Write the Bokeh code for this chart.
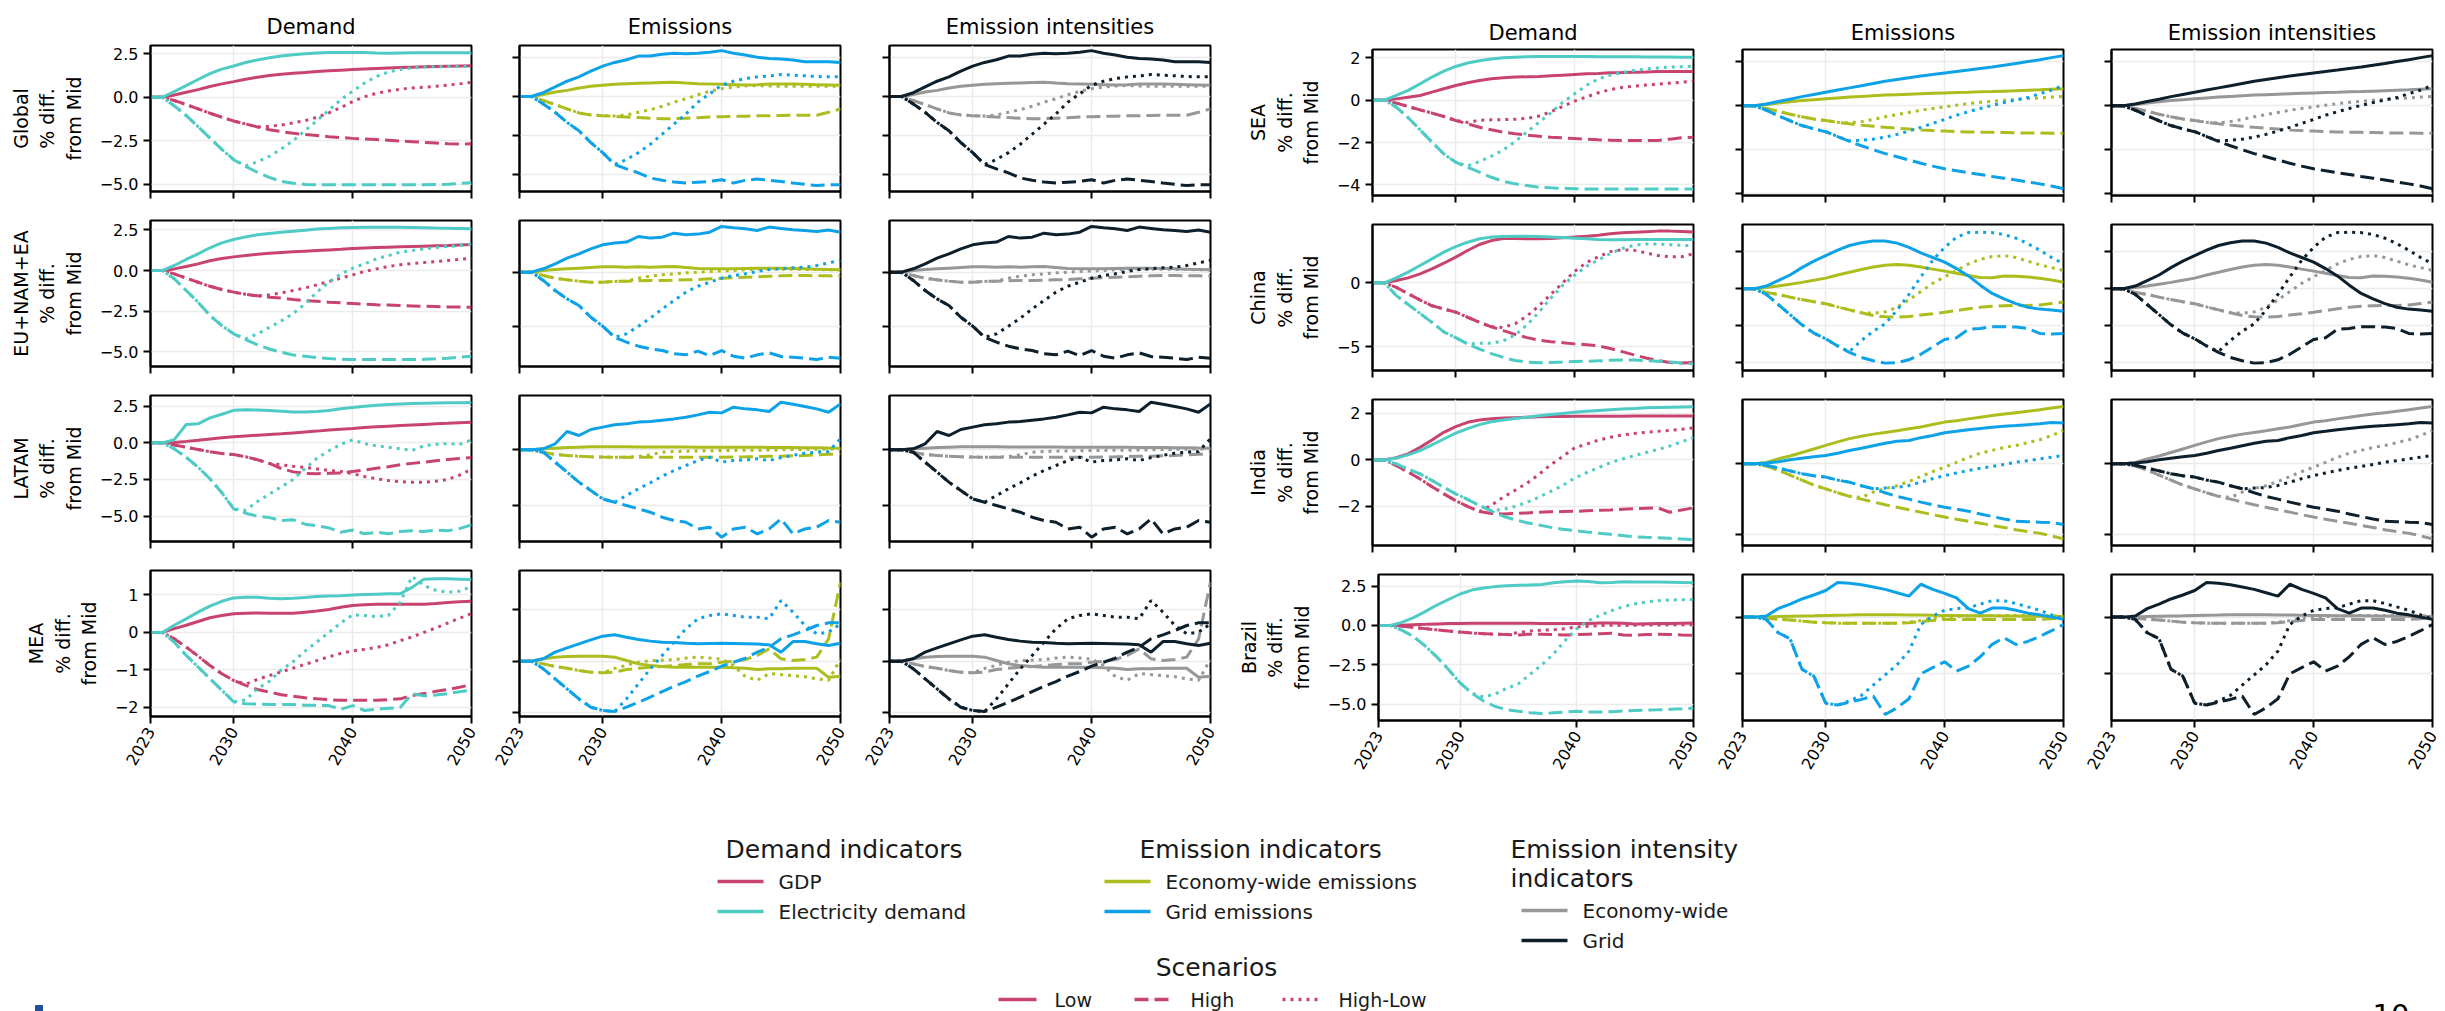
import math
from bokeh.plotting import figure
from bokeh.layouts import row, column
from bokeh.models import Range1d, FixedTicker
from bokeh.embed import file_html
from bokeh.resources import INLINE
from bokeh.core.properties import value

YEARS = list(range(2023, 2051))
X_TICKS = [2023, 2030, 2040, 2050]

FONT = "DejaVu Sans"
COLORS = {"gdp": "#C8446F", "elec": "#4ECBC4", "econ": "#ADBD1E", "grid": "#0DA2E7",
          "econ_int": "#979797", "grid_int": "#0E1F2C"}
DASHES = {"low": "solid", "high": "14 6", "highlow": "3 5"}
SCENARIOS = ["low", "high", "highlow"]

# ---------------------------------------------------------------- data
# % difference from the Mid scenario, one value per year 2023..2050
GLOBAL = dict(
    gdp_low=[0, 0, 0.13, 0.29, 0.44, 0.62, 0.77, 0.90, 1.04, 1.15, 1.25, 1.33, 1.38, 1.42, 1.48, 1.52, 1.56, 1.60, 1.63, 1.66, 1.69, 1.71, 1.73, 1.75, 1.77, 1.79, 1.80, 1.81],
    gdp_high=[0, 0, -0.19, -0.42, -0.67, -0.92, -1.15, -1.37, -1.54, -1.71, -1.87, -1.98, -2.08, -2.15, -2.21, -2.27, -2.32, -2.37, -2.41, -2.44, -2.48, -2.52, -2.56, -2.60, -2.64, -2.68, -2.70, -2.68],
    gdp_highlow=[0, 0, -0.19, -0.42, -0.67, -0.92, -1.15, -1.37, -1.54, -1.71, -1.68, -1.60, -1.48, -1.35, -1.15, -0.90, -0.60, -0.25, 0.03, 0.22, 0.36, 0.46, 0.53, 0.58, 0.63, 0.70, 0.77, 0.86],
    elec_low=[0, 0, 0.33, 0.67, 1.02, 1.36, 1.62, 1.80, 2.00, 2.15, 2.27, 2.37, 2.45, 2.51, 2.55, 2.57, 2.58, 2.58, 2.57, 2.55, 2.54, 2.55, 2.56, 2.56, 2.56, 2.56, 2.56, 2.56],
    elec_high=[0, 0, -0.50, -1.05, -1.70, -2.35, -3.00, -3.60, -3.98, -4.33, -4.62, -4.85, -4.96, -5.02, -5.04, -5.04, -5.04, -5.04, -5.04, -5.04, -5.04, -5.04, -5.04, -5.04, -5.03, -5.01, -4.97, -4.92],
    elec_highlow=[0, 0, -0.50, -1.05, -1.70, -2.35, -3.00, -3.60, -3.95, -3.72, -3.40, -2.98, -2.50, -1.92, -1.35, -0.75, -0.15, 0.35, 0.82, 1.20, 1.45, 1.60, 1.69, 1.74, 1.76, 1.77, 1.77, 1.77],
    econ_low=[0, 0, 0.13, 0.28, 0.39, 0.54, 0.65, 0.72, 0.78, 0.82, 0.85, 0.87, 0.89, 0.91, 0.86, 0.82, 0.80, 0.78, 0.76, 0.74, 0.76, 0.80, 0.80, 0.80, 0.78, 0.76, 0.74, 0.72],
    econ_high=[0, 0, -0.26, -0.52, -0.80, -1.06, -1.19, -1.24, -1.28, -1.32, -1.36, -1.41, -1.43, -1.43, -1.40, -1.37, -1.33, -1.30, -1.28, -1.27, -1.25, -1.24, -1.22, -1.21, -1.21, -1.21, -1.02, -0.80],
    econ_highlow=[0, 0, -0.26, -0.52, -0.80, -1.06, -1.19, -1.24, -1.26, -1.19, -1.02, -0.85, -0.63, -0.37, -0.15, 0.11, 0.33, 0.50, 0.61, 0.68, 0.70, 0.67, 0.65, 0.65, 0.65, 0.65, 0.65, 0.65],
    grid_low=[0, 0, 0.24, 0.61, 0.98, 1.26, 1.63, 1.95, 2.19, 2.36, 2.60, 2.60, 2.71, 2.78, 2.75, 2.78, 2.84, 2.95, 2.78, 2.67, 2.52, 2.45, 2.41, 2.34, 2.23, 2.23, 2.23, 2.19],
    grid_high=[0, 0, -0.48, -1.02, -1.67, -2.21, -2.97, -3.62, -4.38, -4.66, -4.92, -5.25, -5.40, -5.51, -5.57, -5.52, -5.47, -5.36, -5.57, -5.40, -5.31, -5.40, -5.47, -5.57, -5.66, -5.73, -5.68, -5.68],
    grid_highlow=[0, 0, -0.48, -1.02, -1.67, -2.21, -2.97, -3.62, -4.38, -4.06, -3.62, -3.08, -2.43, -1.78, -1.13, -0.37, 0.17, 0.72, 0.98, 1.15, 1.26, 1.32, 1.41, 1.37, 1.33, 1.28, 1.26, 1.26],
)

EU_NAM_EA = dict(
    gdp_low=[0, 0, 0.10, 0.25, 0.41, 0.60, 0.74, 0.84, 0.92, 1.00, 1.07, 1.11, 1.15, 1.19, 1.23, 1.27, 1.31, 1.36, 1.39, 1.42, 1.44, 1.46, 1.48, 1.50, 1.52, 1.54, 1.57, 1.60],
    gdp_high=[0, 0, -0.21, -0.47, -0.72, -0.97, -1.17, -1.33, -1.46, -1.56, -1.64, -1.70, -1.79, -1.85, -1.89, -1.95, -1.99, -2.03, -2.07, -2.11, -2.13, -2.16, -2.18, -2.20, -2.22, -2.24, -2.25, -2.26],
    gdp_highlow=[0, 0, -0.21, -0.47, -0.72, -0.97, -1.17, -1.33, -1.46, -1.56, -1.50, -1.38, -1.23, -1.07, -0.88, -0.68, -0.47, -0.27, -0.06, 0.10, 0.25, 0.35, 0.43, 0.49, 0.55, 0.62, 0.68, 0.76],
    elec_low=[0, 0, 0.31, 0.68, 1.03, 1.40, 1.70, 1.91, 2.07, 2.20, 2.28, 2.36, 2.42, 2.48, 2.55, 2.59, 2.63, 2.65, 2.66, 2.67, 2.67, 2.66, 2.65, 2.64, 2.62, 2.61, 2.59, 2.57],
    elec_high=[0, 0, -0.51, -1.23, -1.95, -2.77, -3.39, -3.90, -4.25, -4.58, -4.83, -5.03, -5.20, -5.28, -5.36, -5.42, -5.46, -5.48, -5.48, -5.48, -5.48, -5.48, -5.48, -5.47, -5.44, -5.40, -5.34, -5.28],
    elec_highlow=[0, 0, -0.51, -1.23, -1.95, -2.77, -3.39, -3.90, -4.20, -3.90, -3.50, -3.10, -2.65, -2.05, -1.33, -0.72, -0.21, 0.14, 0.41, 0.72, 0.92, 1.13, 1.23, 1.33, 1.42, 1.48, 1.54, 1.64],
    econ_low=[0, 0, 0.15, 0.25, 0.31, 0.37, 0.43, 0.49, 0.49, 0.46, 0.49, 0.46, 0.49, 0.52, 0.43, 0.34, 0.31, 0.31, 0.31, 0.34, 0.37, 0.37, 0.37, 0.34, 0.31, 0.28, 0.25, 0.22],
    econ_high=[0, 0, -0.31, -0.56, -0.71, -0.83, -0.93, -0.93, -0.86, -0.83, -0.80, -0.77, -0.77, -0.74, -0.71, -0.68, -0.62, -0.56, -0.52, -0.46, -0.43, -0.37, -0.34, -0.31, -0.31, -0.34, -0.34, -0.37],
    econ_highlow=[0, 0, -0.31, -0.56, -0.71, -0.83, -0.93, -0.93, -0.86, -0.83, -0.56, -0.37, -0.25, -0.15, -0.06, 0.00, 0.06, 0.12, 0.15, 0.22, 0.28, 0.31, 0.28, 0.28, 0.25, 0.25, 0.22, 0.22],
    grid_low=[0, 0, 0.31, 0.77, 1.30, 1.70, 2.16, 2.53, 2.69, 2.78, 3.30, 3.15, 3.24, 3.61, 3.46, 3.52, 3.70, 4.23, 4.10, 4.01, 3.86, 4.17, 4.05, 3.92, 3.86, 3.77, 3.90, 3.70],
    grid_high=[0, 0, -0.77, -1.70, -2.47, -3.09, -4.17, -5.00, -6.02, -6.48, -6.85, -7.10, -7.25, -7.56, -7.65, -7.31, -7.72, -7.25, -7.78, -7.96, -7.65, -7.47, -7.81, -7.87, -7.96, -8.09, -7.87, -7.96],
    grid_highlow=[0, 0, -0.77, -1.70, -2.47, -3.09, -4.17, -5.00, -6.02, -5.71, -5.00, -4.26, -3.40, -2.62, -1.85, -1.30, -0.93, -0.56, -0.31, -0.15, 0.06, 0.25, 0.31, 0.40, 0.46, 0.62, 0.86, 1.08],
)

LATAM = dict(
    gdp_low=[0, 0, 0.03, 0.10, 0.18, 0.27, 0.35, 0.42, 0.47, 0.52, 0.57, 0.62, 0.68, 0.74, 0.80, 0.87, 0.93, 0.98, 1.04, 1.09, 1.14, 1.18, 1.22, 1.26, 1.30, 1.33, 1.37, 1.40],
    gdp_high=[0, 0, -0.15, -0.30, -0.45, -0.60, -0.72, -0.80, -0.95, -1.15, -1.40, -1.75, -1.98, -2.08, -2.10, -2.08, -2.05, -1.95, -1.85, -1.73, -1.63, -1.50, -1.40, -1.32, -1.22, -1.14, -1.07, -1.00],
    gdp_highlow=[0, 0, -0.15, -0.30, -0.45, -0.60, -0.72, -0.80, -0.95, -1.15, -1.40, -1.50, -1.60, -1.68, -1.78, -1.88, -1.95, -2.10, -2.30, -2.45, -2.57, -2.65, -2.68, -2.68, -2.62, -2.50, -2.20, -1.80],
    elec_low=[0, 0, 0.22, 1.25, 1.30, 1.70, 1.95, 2.22, 2.25, 2.24, 2.20, 2.16, 2.10, 2.10, 2.14, 2.20, 2.32, 2.41, 2.50, 2.57, 2.61, 2.65, 2.68, 2.70, 2.72, 2.73, 2.74, 2.75],
    elec_high=[0, 0, -0.41, -0.98, -1.66, -2.45, -3.40, -4.50, -4.80, -5.00, -5.10, -5.30, -5.25, -5.55, -5.65, -5.80, -6.10, -5.95, -6.20, -6.10, -6.20, -6.05, -6.00, -6.05, -5.95, -6.00, -5.85, -5.60],
    elec_highlow=[0, 0, -0.41, -0.98, -1.66, -2.45, -3.40, -4.50, -4.60, -4.00, -3.50, -3.00, -2.50, -1.75, -1.05, -0.55, -0.10, 0.20, -0.05, -0.20, -0.30, -0.40, -0.52, -0.20, -0.10, -0.05, -0.10, 0.20],
    econ_low=[0, 0, 0.09, 0.15, 0.20, 0.24, 0.27, 0.27, 0.27, 0.27, 0.26, 0.26, 0.25, 0.25, 0.25, 0.24, 0.24, 0.24, 0.24, 0.23, 0.23, 0.22, 0.21, 0.20, 0.19, 0.18, 0.16, 0.15],
    econ_high=[0, 0, -0.21, -0.42, -0.51, -0.57, -0.63, -0.65, -0.66, -0.66, -0.66, -0.66, -0.66, -0.66, -0.66, -0.66, -0.66, -0.66, -0.65, -0.63, -0.60, -0.58, -0.57, -0.54, -0.50, -0.45, -0.40, -0.36],
    econ_highlow=[0, 0, -0.21, -0.42, -0.51, -0.57, -0.63, -0.65, -0.66, -0.66, -0.60, -0.45, -0.21, -0.15, -0.12, -0.10, -0.08, -0.06, -0.05, -0.04, -0.03, -0.02, 0.00, 0.02, 0.04, 0.06, 0.08, 0.09],
    grid_low=[0, 0, 0.09, 0.54, 1.65, 1.29, 1.83, 2.04, 2.25, 2.34, 2.49, 2.54, 2.66, 2.78, 2.93, 3.14, 3.38, 3.32, 3.83, 3.68, 3.59, 3.44, 4.28, 4.10, 3.90, 3.68, 3.38, 4.13],
    grid_high=[0, 0, -0.21, -1.11, -2.00, -2.90, -3.65, -4.40, -4.70, -5.00, -5.30, -5.60, -6.05, -6.35, -6.50, -7.10, -6.95, -7.84, -7.10, -6.95, -7.54, -7.10, -6.20, -7.54, -7.10, -6.95, -6.35, -6.50],
    grid_highlow=[0, 0, -0.21, -1.11, -2.00, -2.90, -3.65, -4.40, -4.70, -4.10, -3.50, -2.96, -2.37, -1.86, -1.41, -0.96, -0.66, -1.10, -0.96, -0.90, -0.80, -0.96, -0.70, -0.50, -0.30, -0.20, -0.15, 1.00],
)

MEA = dict(
    gdp_low=[0, 0, 0.10, 0.19, 0.29, 0.39, 0.45, 0.50, 0.51, 0.52, 0.51, 0.51, 0.51, 0.54, 0.57, 0.61, 0.67, 0.72, 0.74, 0.75, 0.75, 0.75, 0.75, 0.75, 0.77, 0.80, 0.82, 0.83],
    gdp_high=[0, 0, -0.17, -0.39, -0.63, -0.88, -1.10, -1.28, -1.41, -1.52, -1.59, -1.66, -1.70, -1.74, -1.77, -1.79, -1.81, -1.81, -1.81, -1.81, -1.79, -1.77, -1.68, -1.63, -1.57, -1.52, -1.46, -1.39],
    gdp_highlow=[0, 0, -0.17, -0.39, -0.63, -0.88, -1.10, -1.28, -1.38, -1.25, -1.15, -1.05, -0.95, -0.85, -0.75, -0.65, -0.56, -0.49, -0.45, -0.40, -0.33, -0.22, -0.12, 0.00, 0.12, 0.25, 0.38, 0.50],
    elec_low=[0, 0, 0.19, 0.36, 0.54, 0.70, 0.83, 0.92, 0.94, 0.94, 0.91, 0.90, 0.91, 0.93, 0.96, 0.97, 0.98, 1.00, 1.01, 1.02, 1.03, 1.03, 1.20, 1.42, 1.43, 1.43, 1.42, 1.41],
    elec_high=[0, 0, -0.26, -0.61, -0.92, -1.23, -1.54, -1.85, -1.90, -1.91, -1.92, -1.92, -1.92, -1.94, -1.94, -1.95, -2.05, -1.95, -2.08, -2.05, -2.02, -2.00, -1.63, -1.69, -1.67, -1.63, -1.58, -1.54],
    elec_highlow=[0, 0, -0.26, -0.61, -0.92, -1.23, -1.54, -1.85, -1.80, -1.50, -1.30, -1.00, -0.78, -0.50, -0.25, 0.00, 0.25, 0.47, 0.45, 0.42, 0.45, 0.80, 1.49, 1.25, 1.12, 1.07, 1.10, 1.22],
    econ_low=[0, 0, 0.23, 0.39, 0.45, 0.48, 0.48, 0.48, 0.39, 0.06, -0.26, -0.42, -0.52, -0.58, -0.58, -0.58, -0.58, -0.58, -0.64, -0.68, -0.81, -0.74, -0.74, -0.68, -0.68, -0.68, -1.55, -1.45],
    econ_high=[0, 0, -0.26, -0.52, -0.68, -0.90, -1.06, -1.13, -1.06, -0.81, -0.68, -0.58, -0.52, -0.42, -0.32, -0.26, -0.26, -0.10, -0.03, 0.16, 0.55, 1.19, 0.23, 0.06, 0.16, 0.39, 2.16, 7.65],
    econ_highlow=[0, 0, -0.26, -0.52, -0.68, -0.90, -1.06, -1.13, -0.70, -0.40, -0.10, 0.05, 0.10, 0.15, 0.30, 0.40, 0.30, 0.20, -0.40, -1.50, -1.85, -1.20, -1.30, -1.40, -1.50, -1.70, -1.85, 0.20],
    grid_low=[0, 0, 0.23, 0.87, 1.29, 1.68, 2.06, 2.42, 2.55, 2.32, 2.10, 1.94, 1.84, 1.81, 1.74, 1.68, 1.71, 1.74, 1.71, 1.68, 1.65, 1.58, 0.87, 1.90, 1.90, 1.68, 1.52, 1.74],
    grid_high=[0, 0, -0.74, -1.71, -2.68, -3.65, -4.45, -4.77, -4.87, -4.45, -3.97, -3.48, -2.94, -2.42, -1.97, -1.45, -1.00, -0.48, -0.10, 0.29, 0.87, 1.35, 2.16, 2.55, 2.97, 3.45, 3.71, 3.71],
    grid_highlow=[0, 0, -0.74, -1.71, -2.68, -3.65, -4.45, -4.77, -4.87, -3.65, -2.19, -0.74, 0.55, 1.84, 3.13, 4.10, 4.42, 4.58, 4.42, 4.26, 4.26, 4.10, 5.87, 4.74, 3.45, 2.65, 2.81, 3.61],
)

SEA = dict(
    gdp_low=[0, 0, 0.06, 0.14, 0.22, 0.38, 0.54, 0.69, 0.82, 0.93, 1.01, 1.06, 1.09, 1.10, 1.12, 1.15, 1.18, 1.21, 1.24, 1.26, 1.29, 1.30, 1.32, 1.33, 1.35, 1.35, 1.35, 1.35],
    gdp_high=[0, 0, -0.14, -0.30, -0.46, -0.61, -0.77, -0.96, -1.12, -1.28, -1.40, -1.51, -1.59, -1.65, -1.70, -1.75, -1.78, -1.81, -1.84, -1.87, -1.89, -1.91, -1.91, -1.91, -1.90, -1.84, -1.78, -1.75],
    gdp_highlow=[0, 0, -0.14, -0.30, -0.46, -0.61, -0.77, -0.96, -1.05, -0.95, -0.93, -0.92, -0.90, -0.86, -0.75, -0.55, -0.30, -0.05, 0.15, 0.35, 0.50, 0.60, 0.66, 0.71, 0.75, 0.80, 0.85, 0.90],
    elec_low=[0, 0, 0.22, 0.46, 0.77, 1.09, 1.37, 1.59, 1.75, 1.86, 1.94, 2.00, 2.03, 2.05, 2.06, 2.06, 2.06, 2.06, 2.06, 2.05, 2.05, 2.05, 2.05, 2.04, 2.04, 2.04, 2.03, 2.03],
    elec_high=[0, 0, -0.33, -0.83, -1.40, -1.98, -2.54, -2.93, -3.17, -3.40, -3.64, -3.83, -3.95, -4.03, -4.11, -4.14, -4.16, -4.18, -4.19, -4.19, -4.19, -4.19, -4.19, -4.19, -4.19, -4.19, -4.19, -4.19],
    elec_highlow=[0, 0, -0.33, -0.83, -1.40, -1.98, -2.54, -2.93, -3.10, -2.90, -2.65, -2.35, -1.95, -1.50, -1.05, -0.60, -0.10, 0.30, 0.70, 1.00, 1.18, 1.30, 1.40, 1.47, 1.52, 1.56, 1.58, 1.60],
    econ_low=[0, 0, 0.06, 0.13, 0.19, 0.24, 0.28, 0.32, 0.36, 0.40, 0.43, 0.46, 0.49, 0.51, 0.53, 0.55, 0.57, 0.59, 0.61, 0.62, 0.64, 0.65, 0.67, 0.69, 0.71, 0.73, 0.76, 0.78],
    econ_high=[0, 0, -0.12, -0.25, -0.38, -0.50, -0.60, -0.67, -0.75, -0.82, -0.88, -0.93, -0.98, -1.02, -1.06, -1.10, -1.13, -1.15, -1.17, -1.19, -1.20, -1.21, -1.22, -1.23, -1.24, -1.24, -1.25, -1.25],
    econ_highlow=[0, 0, -0.12, -0.25, -0.38, -0.50, -0.60, -0.67, -0.75, -0.78, -0.72, -0.62, -0.50, -0.40, -0.30, -0.20, -0.12, -0.05, 0.03, 0.10, 0.16, 0.21, 0.25, 0.29, 0.33, 0.36, 0.40, 0.43],
    grid_low=[0, 0, 0.08, 0.20, 0.30, 0.42, 0.52, 0.62, 0.72, 0.82, 0.92, 1.02, 1.12, 1.20, 1.28, 1.36, 1.43, 1.50, 1.57, 1.63, 1.70, 1.77, 1.85, 1.93, 2.02, 2.10, 2.20, 2.29],
    grid_high=[0, 0, -0.20, -0.45, -0.68, -0.90, -1.05, -1.18, -1.40, -1.62, -1.82, -2.00, -2.18, -2.32, -2.47, -2.62, -2.75, -2.87, -2.96, -3.05, -3.13, -3.22, -3.30, -3.38, -3.47, -3.56, -3.66, -3.78],
    grid_highlow=[0, 0, -0.20, -0.45, -0.68, -0.90, -1.05, -1.18, -1.40, -1.60, -1.57, -1.52, -1.43, -1.30, -1.15, -0.98, -0.80, -0.62, -0.43, -0.27, -0.12, 0.02, 0.15, 0.27, 0.38, 0.55, 0.72, 0.93],
)

CHINA = dict(
    gdp_low=[0, 0, 0.18, 0.39, 0.71, 1.10, 1.54, 2.02, 2.54, 3.01, 3.32, 3.48, 3.48, 3.46, 3.46, 3.48, 3.53, 3.59, 3.66, 3.74, 3.85, 3.93, 3.98, 4.02, 4.06, 4.06, 4.04, 4.00],
    gdp_high=[0, 0, -0.35, -0.85, -1.35, -1.80, -2.05, -2.30, -2.70, -3.10, -3.45, -3.75, -4.05, -4.30, -4.50, -4.62, -4.70, -4.79, -4.85, -4.95, -5.15, -5.40, -5.65, -5.90, -6.10, -6.25, -6.30, -6.25],
    gdp_highlow=[0, 0, -0.35, -0.85, -1.35, -1.80, -2.05, -2.30, -2.70, -3.10, -3.45, -3.50, -3.20, -2.60, -1.80, -0.90, 0.00, 0.90, 1.60, 2.05, 2.45, 2.60, 2.55, 2.35, 2.15, 2.05, 2.05, 2.28],
    elec_low=[0, 0, 0.39, 0.84, 1.36, 1.88, 2.41, 2.85, 3.19, 3.46, 3.59, 3.64, 3.66, 3.66, 3.64, 3.59, 3.55, 3.51, 3.46, 3.40, 3.39, 3.38, 3.40, 3.40, 3.40, 3.40, 3.40, 3.40],
    elec_high=[0, 0, -1.00, -1.70, -2.40, -3.10, -3.85, -4.30, -4.80, -5.20, -5.55, -5.85, -6.10, -6.22, -6.27, -6.25, -6.22, -6.18, -6.15, -6.12, -6.08, -6.06, -6.06, -6.10, -6.15, -6.22, -6.30, -6.36],
    elec_highlow=[0, 0, -1.00, -1.70, -2.40, -3.10, -3.85, -4.30, -4.80, -4.75, -4.75, -4.55, -4.10, -3.30, -2.30, -1.20, -0.20, 0.60, 1.30, 1.80, 2.30, 2.70, 2.95, 3.05, 3.05, 3.00, 2.95, 2.90],
    econ_low=[0, 0, 0.07, 0.15, 0.25, 0.35, 0.47, 0.58, 0.75, 0.90, 1.05, 1.18, 1.28, 1.32, 1.28, 1.18, 1.07, 0.96, 0.85, 0.72, 0.62, 0.60, 0.70, 0.68, 0.64, 0.58, 0.48, 0.36],
    econ_high=[0, 0, -0.20, -0.30, -0.45, -0.58, -0.70, -0.81, -0.98, -1.14, -1.30, -1.45, -1.52, -1.54, -1.50, -1.42, -1.35, -1.27, -1.18, -1.08, -1.00, -0.94, -0.92, -0.90, -0.90, -0.88, -0.80, -0.72],
    econ_highlow=[0, 0, -0.20, -0.30, -0.45, -0.58, -0.70, -0.81, -0.98, -1.14, -1.30, -1.32, -1.25, -1.00, -0.60, -0.15, 0.30, 0.65, 1.00, 1.35, 1.60, 1.75, 1.80, 1.70, 1.50, 1.30, 1.15, 1.00],
    grid_low=[0, 0, 0.15, 0.45, 0.75, 1.15, 1.50, 1.80, 2.10, 2.35, 2.50, 2.60, 2.60, 2.48, 2.25, 1.95, 1.70, 1.45, 1.10, 0.70, 0.20, -0.25, -0.55, -0.80, -1.00, -1.10, -1.15, -1.22],
    grid_high=[0, 0, -0.30, -0.85, -1.40, -1.95, -2.40, -2.71, -3.10, -3.45, -3.72, -3.90, -4.03, -4.00, -3.85, -3.55, -3.15, -2.75, -2.65, -2.20, -2.15, -2.05, -2.05, -2.07, -2.15, -2.42, -2.45, -2.42],
    grid_highlow=[0, 0, -0.30, -0.85, -1.40, -1.95, -2.40, -2.71, -3.10, -3.40, -2.80, -2.30, -1.90, -1.15, -0.30, 0.65, 1.55, 2.25, 2.80, 3.05, 3.07, 3.05, 2.95, 2.75, 2.45, 2.10, 1.70, 1.36],
)

INDIA = dict(
    gdp_low=[0, 0, 0.10, 0.26, 0.54, 0.86, 1.19, 1.43, 1.62, 1.72, 1.77, 1.80, 1.82, 1.84, 1.86, 1.87, 1.87, 1.88, 1.88, 1.88, 1.88, 1.88, 1.89, 1.89, 1.89, 1.89, 1.89, 1.89],
    gdp_high=[0, 0, -0.24, -0.52, -0.82, -1.15, -1.46, -1.75, -2.00, -2.22, -2.30, -2.32, -2.30, -2.28, -2.25, -2.23, -2.22, -2.21, -2.19, -2.17, -2.15, -2.12, -2.10, -2.08, -2.06, -2.25, -2.15, -2.06],
    gdp_highlow=[0, 0, -0.24, -0.52, -0.82, -1.15, -1.46, -1.75, -2.00, -2.22, -1.95, -1.60, -1.30, -1.00, -0.62, -0.20, 0.15, 0.52, 0.68, 0.85, 0.98, 1.07, 1.14, 1.19, 1.23, 1.27, 1.32, 1.38],
    elec_low=[0, 0, 0.08, 0.22, 0.40, 0.65, 0.90, 1.15, 1.35, 1.52, 1.64, 1.72, 1.78, 1.84, 1.90, 1.95, 2.00, 2.05, 2.09, 2.13, 2.16, 2.19, 2.21, 2.24, 2.26, 2.27, 2.28, 2.29],
    elec_high=[0, 0, -0.17, -0.40, -0.60, -0.88, -1.18, -1.46, -1.70, -1.96, -2.20, -2.42, -2.58, -2.70, -2.80, -2.90, -2.98, -3.04, -3.10, -3.15, -3.20, -3.25, -3.30, -3.33, -3.35, -3.37, -3.40, -3.43],
    elec_highlow=[0, 0, -0.17, -0.40, -0.60, -0.88, -1.18, -1.46, -1.70, -1.96, -2.18, -2.12, -2.00, -1.82, -1.60, -1.35, -1.10, -0.78, -0.55, -0.33, -0.12, 0.04, 0.18, 0.32, 0.45, 0.60, 0.78, 0.97],
    econ_low=[0, 0, 0.10, 0.35, 0.55, 0.80, 1.05, 1.30, 1.55, 1.78, 1.95, 2.10, 2.22, 2.34, 2.48, 2.60, 2.78, 2.95, 3.05, 3.18, 3.30, 3.42, 3.52, 3.62, 3.72, 3.82, 3.95, 4.06],
    econ_high=[0, 0, -0.15, -0.45, -0.80, -1.15, -1.50, -1.77, -2.05, -2.30, -2.50, -2.70, -2.90, -3.07, -3.25, -3.42, -3.60, -3.77, -3.92, -4.06, -4.20, -4.36, -4.50, -4.67, -4.80, -4.91, -5.10, -5.31],
    econ_highlow=[0, 0, -0.15, -0.45, -0.80, -1.15, -1.50, -1.77, -2.05, -2.30, -2.38, -2.00, -1.75, -1.55, -1.25, -0.90, -0.55, -0.24, 0.10, 0.45, 0.75, 0.95, 1.15, 1.30, 1.50, 1.70, 2.00, 2.36],
    grid_low=[0, 0, 0.05, 0.15, 0.28, 0.40, 0.50, 0.59, 0.75, 0.94, 1.10, 1.28, 1.45, 1.60, 1.65, 1.85, 2.00, 2.20, 2.30, 2.41, 2.50, 2.59, 2.66, 2.71, 2.77, 2.83, 2.92, 2.88],
    grid_high=[0, 0, -0.10, -0.30, -0.50, -0.70, -0.85, -0.94, -1.15, -1.30, -1.55, -1.77, -2.05, -2.31, -2.50, -2.71, -2.90, -3.07, -3.20, -3.35, -3.55, -3.73, -3.90, -4.06, -4.10, -4.13, -4.15, -4.29],
    grid_highlow=[0, 0, -0.10, -0.30, -0.50, -0.70, -0.85, -0.94, -1.15, -1.30, -1.55, -1.77, -1.72, -1.68, -1.53, -1.30, -1.05, -0.83, -0.65, -0.47, -0.32, -0.19, -0.05, 0.12, 0.22, 0.35, 0.47, 0.59],
)

BRAZIL = dict(
    gdp_low=[0, 0, 0.02, 0.05, 0.07, 0.10, 0.12, 0.13, 0.14, 0.14, 0.14, 0.14, 0.14, 0.14, 0.13, 0.13, 0.12, 0.12, 0.13, 0.15, 0.16, 0.14, 0.10, 0.11, 0.12, 0.13, 0.14, 0.15],
    gdp_high=[0, 0, -0.05, -0.12, -0.20, -0.28, -0.35, -0.42, -0.48, -0.52, -0.56, -0.58, -0.60, -0.55, -0.55, -0.57, -0.60, -0.58, -0.55, -0.52, -0.50, -0.60, -0.62, -0.58, -0.55, -0.57, -0.60, -0.62],
    gdp_highlow=[0, 0, -0.05, -0.12, -0.20, -0.28, -0.35, -0.42, -0.48, -0.52, -0.56, -0.58, -0.45, -0.35, -0.30, -0.28, -0.20, -0.10, -0.05, 0.00, 0.02, 0.00, 0.02, 0.03, 0.03, 0.04, 0.05, 0.05],
    elec_low=[0, 0, 0.20, 0.50, 0.88, 1.30, 1.65, 2.00, 2.25, 2.38, 2.47, 2.52, 2.55, 2.58, 2.60, 2.72, 2.78, 2.82, 2.80, 2.72, 2.73, 2.78, 2.77, 2.76, 2.76, 2.75, 2.73, 2.71],
    elec_high=[0, 0, -0.30, -0.70, -1.30, -2.00, -2.80, -3.65, -4.30, -4.80, -5.15, -5.35, -5.45, -5.55, -5.60, -5.55, -5.50, -5.45, -5.50, -5.50, -5.48, -5.43, -5.40, -5.38, -5.36, -5.33, -5.30, -5.25],
    elec_highlow=[0, 0, -0.30, -0.70, -1.30, -2.00, -2.80, -3.65, -4.30, -4.55, -4.35, -4.00, -3.70, -3.10, -2.50, -1.80, -0.95, -0.20, 0.30, 0.65, 0.95, 1.20, 1.38, 1.50, 1.57, 1.62, 1.64, 1.65],
    econ_low=[0, 0, 0.02, 0.05, 0.08, 0.10, 0.12, 0.15, 0.17, 0.18, 0.20, 0.20, 0.20, 0.20, 0.19, 0.18, 0.16, 0.15, 0.14, 0.13, 0.12, 0.11, 0.10, 0.09, 0.08, 0.07, 0.06, 0.05],
    econ_high=[0, 0, -0.10, -0.18, -0.25, -0.35, -0.45, -0.50, -0.53, -0.55, -0.55, -0.55, -0.55, -0.53, -0.50, -0.40, -0.30, -0.20, -0.20, -0.20, -0.20, -0.20, -0.20, -0.20, -0.20, -0.20, -0.15, -0.10],
    econ_highlow=[0, 0, -0.10, -0.18, -0.25, -0.35, -0.45, -0.50, -0.53, -0.55, -0.55, -0.55, -0.55, -0.53, -0.45, -0.30, -0.10, 0.00, 0.05, 0.10, 0.12, 0.14, 0.15, 0.15, 0.15, 0.15, 0.12, 0.10],
    grid_low=[0, 0, 0.10, 0.75, 1.15, 1.60, 1.95, 2.35, 3.05, 2.98, 2.85, 2.65, 2.45, 2.15, 1.85, 2.90, 2.45, 2.10, 1.70, 0.75, 0.35, 0.80, 0.80, 0.60, 0.35, 0.20, 0.00, -0.20],
    grid_high=[0, 0, -0.20, -1.38, -1.90, -4.60, -5.20, -7.60, -7.75, -7.50, -7.26, -6.97, -8.59, -8.00, -7.20, -5.00, -4.45, -3.94, -4.76, -4.32, -3.50, -2.40, -1.82, -2.41, -2.15, -1.70, -1.20, -0.65],
    grid_highlow=[0, 0, -0.20, -1.38, -1.90, -4.60, -5.20, -7.60, -7.75, -7.40, -6.90, -6.00, -5.10, -4.20, -3.00, -0.65, 0.10, 0.60, 0.75, 0.82, 1.15, 1.45, 1.45, 1.20, 0.90, 0.60, 0.20, -0.20],
)

# name, series, demand y-limits, demand ticks, decimals, emission y-limits, emission ticks
LEFT_ROWS = [
    ("Global", GLOBAL, (-5.43, 2.98), [-5, -2.5, 0, 2.5], 1, (-6.12, 3.28), [-5, -2.5, 0, 2.5]),
    ("EU+NAM+EA", EU_NAM_EA, (-5.91, 3.08), [-5, -2.5, 0, 2.5], 1, (-8.73, 4.78), [-5, 0]),
    ("LATAM", LATAM, (-6.73, 3.23), [-5, -2.5, 0, 2.5], 1, (-8.23, 4.88), [-5, 0]),
    ("MEA", MEA, (-2.24, 1.65), [-2, -1, 0, 1], 0, (-5.35, 8.77), [-5, 0, 5]),
]
RIGHT_ROWS = [
    ("SEA", SEA, (-4.50, 2.39), [-4, -2, 0, 2], 0, (-4.09, 2.57), [-4, -2, 0, 2]),
    ("China", CHINA, (-6.88, 4.58), [-5, 0], 0, (-4.43, 3.49), [-4, -2, 0, 2]),
    ("India", INDIA, (-3.68, 2.60), [-2, 0, 2], 0, (-5.78, 4.55), [-5, 0]),
    ("Brazil", BRAZIL, (-6.04, 3.24), [-5, -2.5, 0, 2.5], 1, (-9.12, 3.76), [-5, 0]),
]

COLUMN_TITLES = ["Demand", "Emissions", "Emission intensities"]
PANEL_SERIES = [
    [("gdp", "gdp"), ("elec", "elec")],
    [("econ", "econ"), ("grid", "grid")],
    [("econ", "econ_int"), ("grid", "grid_int")],
]


def tick_text(t, decimals):
    s = f"{abs(t):.{decimals}f}"
    return ("\u2212" + s) if t < 0 else s


def style_axis(ax, ticks, labels=None):
    ax.ticker = FixedTicker(ticks=ticks)
    ax.axis_line_width = 2
    ax.axis_line_color = "black"
    ax.major_tick_line_width = 2
    ax.major_tick_line_color = "black"
    ax.major_tick_out = 7
    ax.major_tick_in = 0
    ax.minor_tick_line_color = None
    ax.major_label_text_font = FONT
    ax.major_label_text_color = "black"
    if labels is not None:
        ax.major_label_overrides = labels
        ax.major_label_text_font_size = "16px"
        ax.major_label_standoff = 5
    else:
        # shared axis: tick marks only
        ax.major_label_overrides = {t: "" for t in ticks}
        ax.major_label_text_font_size = "1px"
        ax.major_label_standoff = 0


def make_panel(series, col, width, borders, height, y_lim, y_ticks, decimals,
               title=None, title_gap=10, y_label=None, bottom_labels=False):
    left, right, top, bottom = borders
    p = figure(width=width, height=height, x_range=Range1d(2023, 2050),
               y_range=Range1d(*y_lim), output_backend="svg", toolbar_location=None,
               min_border_left=left, min_border_right=right,
               min_border_top=top, min_border_bottom=bottom, title=title)
    p.background_fill_color = "white"
    p.border_fill_color = "white"
    p.outline_line_color = "black"
    p.outline_line_width = 2
    style_axis(p.xaxis[0], X_TICKS, {t: str(t) for t in X_TICKS} if bottom_labels else None)
    style_axis(p.yaxis[0], y_ticks,
               {t: tick_text(t, decimals) for t in y_ticks} if col == 0 else None)
    if bottom_labels:
        p.xaxis.major_label_orientation = math.pi / 3
    if col == 0:
        p.yaxis.axis_label = y_label
        p.yaxis.axis_label_text_font = FONT
        p.yaxis.axis_label_text_font_size = "19px"
        p.yaxis.axis_label_text_font_style = "normal"
        p.yaxis.axis_label_text_color = "black"
        p.yaxis.axis_label_standoff = 12
    p.grid.grid_line_color = "#ebebeb"
    p.grid.grid_line_width = 1.5
    if title is not None:
        p.title.align = "center"
        p.title.text_font = FONT
        p.title.text_font_size = "21px"
        p.title.text_font_style = "normal"
        p.title.text_color = "black"
        p.title.standoff = title_gap
    for key, color_key in PANEL_SERIES[col]:
        for scen in SCENARIOS:
            p.line(YEARS, series[f"{key}_{scen}"], color=COLORS[color_key],
                   line_width=3, line_dash=DASHES[scen])
    return p


def build_group(rows, widths, lefts, rights, heights, tops, bottoms, title_gap):
    group_rows = []
    for r, (name, series, d_lim, d_ticks, dec, e_lim, e_ticks) in enumerate(rows):
        panels = []
        for c in range(3):
            lim, ticks = (d_lim, d_ticks) if c == 0 else (e_lim, e_ticks)
            panels.append(make_panel(
                series, c, widths[c], (lefts[c], rights[c], tops[r], bottoms[r]), heights[r],
                lim, ticks, dec,
                title=COLUMN_TITLES[c] if r == 0 else None, title_gap=title_gap,
                y_label=f"{name}\n% diff.\nfrom Mid",
                bottom_labels=(r == len(rows) - 1)))
        group_rows.append(row(*panels))
    return column(*group_rows)


# panel cells: each frame keeps enough margin on both sides for the rotated year labels
left_group = build_group(LEFT_ROWS, widths=[481, 369, 384], lefts=[150, 38, 39], rights=[10, 10, 24],
                         heights=[205, 175, 175, 245], tops=[45, 15, 15, 15], bottoms=[14, 14, 14, 84],
                         title_gap=13)
right_group = build_group(RIGHT_ROWS, widths=[469, 370, 372], lefts=[138, 39, 38], rights=[10, 10, 13],
                          heights=[209, 175, 175, 241], tops=[49, 15, 15, 15], bottoms=[14, 14, 14, 80],
                          title_gap=10)

# ---------------------------------------------------------------- legend strip
leg = figure(width=2445, height=211, x_range=Range1d(0, 2445), y_range=Range1d(211, 0),
             output_backend="svg", toolbar_location=None, x_axis_type=None, y_axis_type=None,
             min_border_left=0, min_border_right=0, min_border_top=0, min_border_bottom=0)
leg.grid.visible = False
leg.outline_line_color = None
leg.background_fill_color = "white"
leg.border_fill_color = "white"

LEGEND_GROUPS = [
    (["Demand indicators"], 725, [("GDP", "gdp"), ("Electricity demand", "elec")], 717, 81),
    (["Emission indicators"], 1139, [("Economy-wide emissions", "econ"), ("Grid emissions", "grid")], 1104, 81),
    (["Emission intensity", "indicators"], 1510, [("Economy-wide", "econ_int"), ("Grid", "grid_int")], 1521, 110),
]
for titles, tx, entries, lx, y0 in LEGEND_GROUPS:
    for i, t in enumerate(titles):
        leg.text(x=[tx], y=[49 + 29 * i], text=[t], text_font=value(FONT), text_font_size="25px",
                 text_baseline="middle", text_align="left", text_color="#1a1a1a")
    for j, (label, ck) in enumerate(entries):
        yy = y0 + 30 * j
        leg.line([lx, lx + 46], [yy, yy], color=COLORS[ck], line_width=3.5)
        leg.text(x=[lx + 61], y=[yy], text=[label], text_font=value(FONT), text_font_size="20px",
                 text_baseline="middle", text_align="left", text_color="#1a1a1a")

leg.text(x=[1216], y=[167], text=["Scenarios"], text_font=value(FONT), text_font_size="25px",
         text_baseline="middle", text_align="center", text_color="#1a1a1a")
for label, scen, lx in [("Low", "low", 998), ("High", "high", 1134), ("High-Low", "highlow", 1282)]:
    leg.line([lx, lx + 38], [199, 199], color=COLORS["gdp"], line_width=3.5, line_dash=DASHES[scen])
    leg.text(x=[lx + 56], y=[199], text=[label], text_font=value(FONT), text_font_size="19px",
             text_baseline="middle", text_align="left", text_color="#1a1a1a")

# page furniture at the bottom edge
leg.text(x=[2372], y=[203], text=["10"], text_font=value(FONT), text_font_size="29px",
         text_baseline="top", text_align="left", text_color="black")
leg.quad(left=[35], right=[42], top=[205], bottom=[211], color="#1F4E9A")

layout = column(row(left_group, right_group), leg)

open("out.html", "w").write(file_html(layout, INLINE))
